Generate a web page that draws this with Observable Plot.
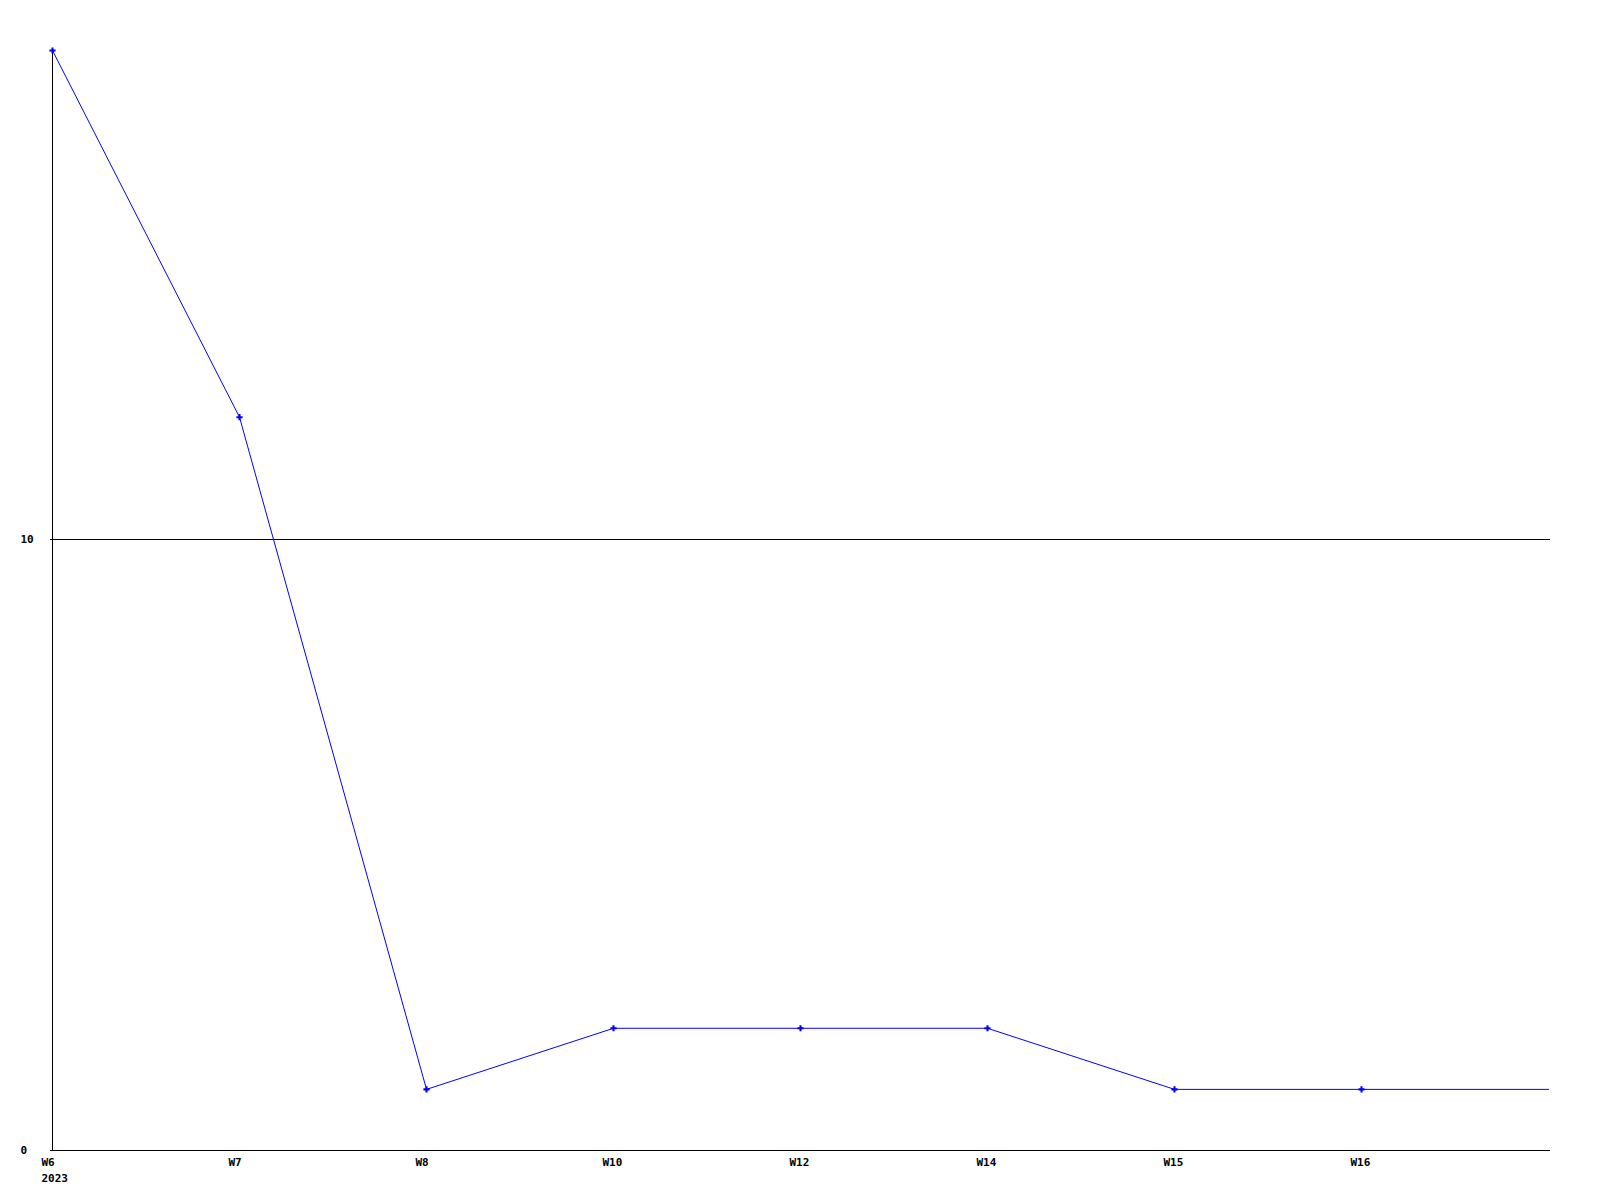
<!DOCTYPE html>
<html>
<head>
<meta charset="utf-8">
<script src="https://cdn.jsdelivr.net/npm/d3@7"></script>
<script src="https://cdn.jsdelivr.net/npm/@observablehq/plot@0.6"></script>
<style>
  html, body { margin: 0; padding: 0; background: #ffffff; }
  #chart svg { display: block; }
</style>
</head>
<body>
<div id="chart"></div>
<script>
const weeks = ["W6", "W7", "W8", "W10", "W12", "W14", "W15", "W16", "W17"];
const counts = [18, 12, 1, 2, 2, 2, 1, 1, 1];
const markedWeeks = ["W6", "W7", "W8", "W10", "W12", "W14", "W15", "W16"];
const xTickLabels = ["W6", "W7", "W8", "W10", "W12", "W14", "W15", "W16"];
const yTicks = [0, 10];
const yearLabel = ["2023"];

const data = weeks.map((w, i) => ({ week: w, count: counts[i] }));
const marked = data.filter(d => markedWeeks.includes(d.week));

const chart = Plot.plot({
  width: 1600,
  height: 1200,
  marginLeft: 50,
  marginRight: 50,
  marginTop: 50,
  marginBottom: 50,
  x: { type: "point", domain: weeks, padding: 0, axis: null },
  y: { domain: [0, 18], axis: null },
  style: {
    fontFamily: "'DejaVu Sans Mono', monospace",
    fontSize: "11px",
    fontWeight: "bold",
    background: "#ffffff",
    color: "#000000"
  },
  marks: [
    Plot.ruleY(yTicks, { stroke: "#000000", strokeWidth: 1, shapeRendering: "crispEdges" }),
    Plot.ruleX([weeks[0]], { y1: 0, y2: 18, stroke: "#000000", strokeWidth: 1, shapeRendering: "crispEdges" }),
    Plot.line(data, { x: "week", y: "count", stroke: "#0000ff", strokeWidth: 1, curve: "linear" }),
    Plot.dot(marked, { x: "week", y: "count", symbol: "cross", r: 2.6, fill: "#0000ff" }),
    Plot.text(yTicks, {
      y: d => d, text: d => String(d), frameAnchor: "left",
      textAnchor: "start", lineAnchor: "middle", dx: -30, fill: "#000000"
    }),
    Plot.text(xTickLabels, {
      x: d => d, text: d => d, frameAnchor: "bottom",
      textAnchor: "start", lineAnchor: "top", dx: -11, dy: 8, fill: "#000000"
    }),
    Plot.text(yearLabel, {
      x: () => weeks[0], text: d => d, frameAnchor: "bottom",
      textAnchor: "start", lineAnchor: "top", dx: -11, dy: 24, fill: "#000000"
    })
  ]
});

document.getElementById("chart").appendChild(chart);
</script>
</body>
</html>
